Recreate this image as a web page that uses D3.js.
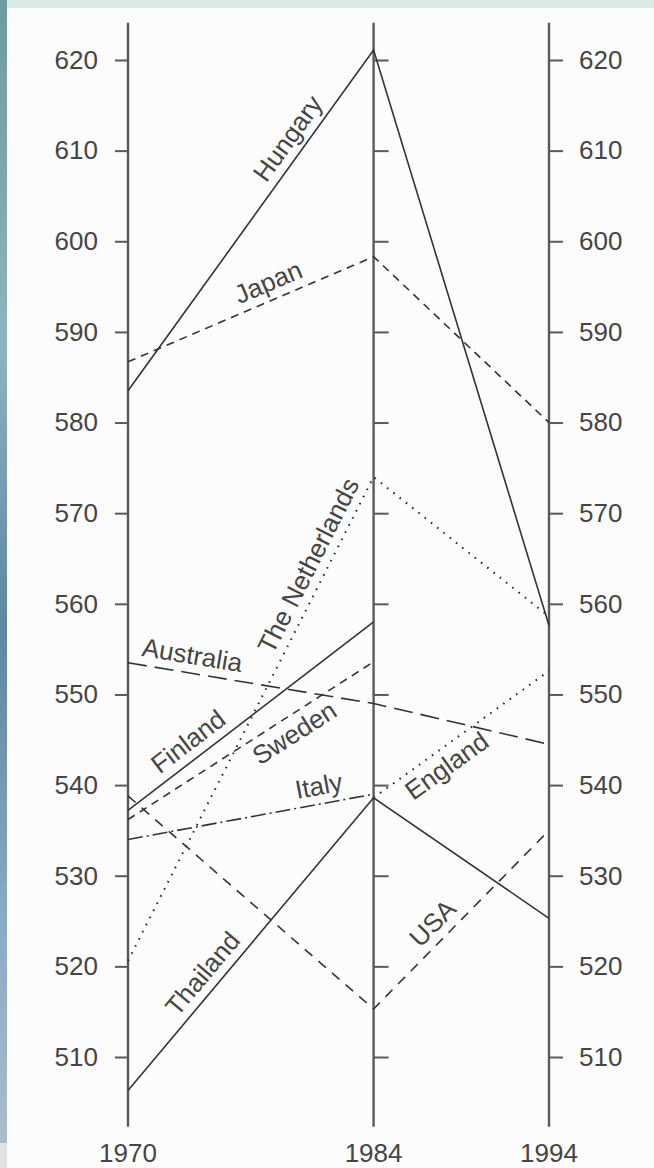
<!DOCTYPE html>
<html>
<head>
<meta charset="utf-8">
<script src="https://cdn.jsdelivr.net/npm/d3@7"></script>
<style>
  html, body { margin: 0; padding: 0; background: #ffffff; }
  svg { display: block; }
  text { font-family: "Liberation Sans", Arial, Helvetica, sans-serif; fill: #454545; }
</style>
</head>
<body>
<div id="chart"></div>
<script>
// data
const years = [1970, 1984, 1994];
const yearLabels = ["1970", "1984", "1994"];
const yTicks = [510, 520, 530, 540, 550, 560, 570, 580, 590, 600, 610, 620];
const countries = ["Hungary", "Japan", "The Netherlands", "Australia", "Finland",
                   "Sweden", "Italy", "England", "Thailand", "USA"];
const hungary     = [583.5, 621.1, 557.6];
const japan       = [586.7, 598.3, 580.0];
const netherlands = [520.6, 574.0, 558.6];
const australia   = [553.5, 549.0, 544.5];
const finland     = [537.2, 558.0, null];
const sweden      = [536.2, 553.6, null];
const italy       = [534.0, 539.0, null];
const england     = [null, 538.6, 552.6];
const thailand    = [506.3, 538.6, 525.3];
const usa         = [538.8, 515.3, 535.0];
const scores = [hungary, japan, netherlands, australia, finland,
                sweden, italy, england, thailand, usa];

// line styles
const dash = {
  "Hungary": null,
  "Japan": "8,6",
  "The Netherlands": "1.6,6.4",
  "Australia": "19,8",
  "Finland": null,
  "Sweden": "8,6",
  "Italy": "15,4,2,4",
  "England": "1.6,6.4",
  "Thailand": null,
  "USA": "10,8"
};

// where the name sits: segment, fraction along it, side of line
const labelSpec = {
  "Hungary":         {seg: 0, t: 0.71, side: -1},
  "Japan":           {seg: 0, t: 0.6, side: -1},
  "The Netherlands": {seg: 0, t: 0.8, side: -1},
  "Australia":       {seg: 0, t: 0.25, side: -1},
  "Finland":         {seg: 0, t: 0.29, side: -1},
  "Sweden":          {seg: 0, t: 0.64, side: 1},
  "Italy":           {seg: 0, t: 0.79, side: -1},
  "England":         {seg: 1, t: 0.36, side: 1},
  "Thailand":        {seg: 0, t: 0.36, side: -1},
  "USA":             {seg: 1, t: 0.41, side: -1}
};

const W = 654, H = 1168;

const svg = d3.select("#chart").append("svg")
  .attr("width", W)
  .attr("height", H);

// scanned page look: coloured strips at top and left
const defs = svg.append("defs");
const grad = defs.append("linearGradient")
  .attr("id", "leftStrip").attr("x1", 0).attr("y1", 0).attr("x2", 0).attr("y2", 1);
grad.append("stop").attr("offset", "0%").attr("stop-color", "#6f9aa0");
grad.append("stop").attr("offset", "30%").attr("stop-color", "#8fb3c0");
grad.append("stop").attr("offset", "55%").attr("stop-color", "#5d86a3");
grad.append("stop").attr("offset", "80%").attr("stop-color", "#8aa9c4");
grad.append("stop").attr("offset", "100%").attr("stop-color", "#a9bccc");

svg.append("rect").attr("width", W).attr("height", H).attr("fill", "#fcfcfc");
svg.append("rect").attr("width", W).attr("height", 8).attr("fill", "#dceae5");
svg.append("rect").attr("width", 7).attr("height", 1143).attr("fill", "url(#leftStrip)");
svg.append("rect").attr("y", 1143).attr("width", 7).attr("height", 25).attr("fill", "#dfe3e6");

// scales
const x = d3.scaleLinear().domain([1970, 1994]).range([128, 549]);
const y = d3.scaleLinear().domain([510, 620]).range([1057, 60]);
const axisExtent = [502.3, 624.1];

const axisColor = "#5a5a5a";

// vertical axis lines
svg.append("g").selectAll("line")
  .data(years)
  .join("line")
    .attr("x1", d => x(d)).attr("x2", d => x(d))
    .attr("y1", y(axisExtent[1])).attr("y2", y(axisExtent[0]))
    .attr("stroke", axisColor)
    .attr("stroke-width", 2.4);

// tick axes
const leftAxis = d3.axisLeft(y).tickValues(yTicks).tickSize(13).tickPadding(17).tickFormat(d3.format("d"));
const midAxis = d3.axisRight(y).tickValues(yTicks).tickSize(15).tickFormat("");
const rightAxis = d3.axisRight(y).tickValues(yTicks).tickSize(14).tickPadding(16).tickFormat(d3.format("d"));

function styleAxis(g) {
  g.select(".domain").remove();
  g.selectAll(".tick line").attr("stroke", axisColor).attr("stroke-width", 2);
  g.selectAll(".tick text")
    .attr("fill", "#454545")
    .style("font-size", "26px")
    .style("font-family", "'Liberation Sans', Arial, sans-serif");
}

svg.append("g").attr("transform", `translate(${x(1970)},0)`).call(leftAxis).call(styleAxis);
svg.append("g").attr("transform", `translate(${x(1984)},0)`).call(midAxis).call(styleAxis);
svg.append("g").attr("transform", `translate(${x(1994)},0)`).call(rightAxis).call(styleAxis);

// year labels
svg.append("g").selectAll("text")
  .data(years)
  .join("text")
    .attr("x", d => x(d))
    .attr("y", 1162)
    .attr("text-anchor", "middle")
    .style("font-size", "26px")
    .text((d, i) => yearLabels[i]);

// country lines
const line = d3.line()
  .defined(d => d.v != null)
  .x(d => x(d.year))
  .y(d => y(d.v));

const series = countries.map((c, i) => ({
  name: c,
  pts: years.map((yr, j) => ({year: yr, v: scores[i][j]}))
}));

const isDotted = name => dash[name] && dash[name].startsWith("1.6");

svg.append("g").selectAll("path")
  .data(series)
  .join("path")
    .attr("d", d => line(d.pts))
    .attr("fill", "none")
    .attr("stroke", d => isDotted(d.name) ? "#2a2a2a" : "#333333")
    .attr("stroke-width", d => isDotted(d.name) ? 2 : 1.6)
    .attr("stroke-linecap", "butt")
    .attr("stroke-dasharray", d => dash[d.name]);

// country names, rotated along their segment
svg.append("g").selectAll("text")
  .data(series)
  .join("text")
    .attr("transform", d => {
      const s = labelSpec[d.name];
      const a = d.pts[s.seg], b = d.pts[s.seg + 1];
      const x0 = x(a.year), y0 = y(a.v), x1 = x(b.year), y1 = y(b.v);
      const px = x0 + (x1 - x0) * s.t;
      const py = y0 + (y1 - y0) * s.t;
      const ang = Math.atan2(y1 - y0, x1 - x0) * 180 / Math.PI;
      return `translate(${px},${py}) rotate(${ang})`;
    })
    .attr("dy", d => labelSpec[d.name].side < 0 ? "-0.35em" : "1.0em")
    .attr("text-anchor", "middle")
    .style("font-size", "26px")
    .text(d => d.name);
</script>
</body>
</html>
